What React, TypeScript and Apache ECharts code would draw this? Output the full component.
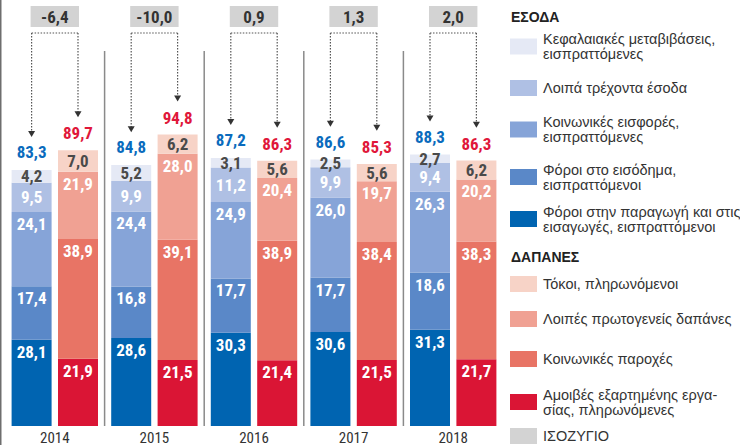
import React, { useEffect, useRef } from "react";
import * as echarts from "echarts";

const categories = ["2014", "2015", "2016", "2017", "2018"];
// Revenue (ΕΣΟΔΑ), bottom to top of stack
const revProduction = [28.1, 28.6, 30.3, 30.6, 31.3];
const revIncome = [17.4, 16.8, 17.7, 17.7, 18.6];
const revSocial = [24.1, 24.4, 24.9, 26.0, 26.3];
const revOther = [9.5, 9.9, 11.2, 9.9, 9.4];
const revCapital = [4.2, 5.2, 3.1, 2.5, 2.7];
// Expenses (ΔΑΠΑΝΕΣ), bottom to top of stack
const expWages = [21.9, 21.5, 21.4, 21.5, 21.7];
const expBenefits = [38.9, 39.1, 38.9, 38.4, 38.3];
const expOtherPrimary = [21.9, 28.0, 20.4, 19.7, 20.2];
const expInterest = [7.0, 6.2, 5.6, 5.6, 6.2];
// Totals and balance (ΙΣΟΖΥΓΙΟ)
const revTotals = [83.3, 84.8, 87.2, 86.6, 88.3];
const expTotals = [89.7, 94.8, 86.3, 85.3, 86.3];
const balance = [-6.4, -10.0, 0.9, 1.3, 2.0];

const revNames = [
  "Φόροι στην παραγωγή και στις\nεισαγωγές, εισπραττόμενοι",
  "Φόροι στο εισόδημα,\nεισπραττόμενοι",
  "Κοινωνικές εισφορές,\nεισπραττόμενες",
  "Λοιπά τρέχοντα έσοδα",
  "Κεφαλαιακές μεταβιβάσεις,\nεισπραττόμενες",
];
const expNames = [
  "Αμοιβές εξαρτημένης εργα-\nσίας, πληρωνόμενες",
  "Κοινωνικές παροχές",
  "Λοιπές πρωτογενείς δαπάνες",
  "Τόκοι, πληρωνόμενοι",
];
const balanceName = "ΙΣΟΖΥΓΙΟ";
const revTitle = "ΕΣΟΔΑ";
const expTitle = "ΔΑΠΑΝΕΣ";

const revColors = ["#0064b1", "#5a88c8", "#86a4d8", "#afc0e4", "#e5e9f5"];
const expColors = ["#da1535", "#e87465", "#f0a193", "#f7d3c7"];
const balanceColor = "#d3d3d3";
const totalRevColor = "#0a6bbd";
const totalExpColor = "#e0173a";

const NARROW =
  "'Liberation Sans Narrow', 'Roboto Condensed', 'DejaVu Sans Condensed', 'Arial Narrow', sans-serif";
const SANS = "'Liberation Sans', Arial, Helvetica, sans-serif";

const BAR_W = 40;
const BAR_GAP = 6.4;

const fmt = (v: number) => v.toFixed(1).replace(".", ",");

export default function App() {
  const ref = useRef<HTMLDivElement>(null);
  useEffect(() => {
    if (!ref.current) return;
    const chart = echarts.init(ref.current, undefined, { renderer: "svg" });

    const revData = [revProduction, revIncome, revSocial, revOther, revCapital];
    const expData = [expWages, expBenefits, expOtherPrimary, expInterest];

    const segLabel = (dark: boolean, centred: boolean) => ({
      show: true,
      position: centred ? "inside" : "insideTop",
      distance: 4,
      color: dark ? "#4a4a4a" : "#ffffff",
      fontFamily: NARROW,
      fontWeight: "bold",
      fontSize: 17,
      lineHeight: 16,
      formatter: (p: any) => fmt(p.value),
    });

    const series: any[] = [];
    revData.forEach((d, k) => {
      series.push({
        type: "bar",
        name: revNames[k].replace("\n", " "),
        stack: "rev",
        barWidth: BAR_W,
        barGap: (BAR_GAP / BAR_W) * 100 + "%",
        data: d,
        itemStyle: { color: revColors[k] },
        label: segLabel(k === revData.length - 1, k >= revData.length - 2),
        silent: true,
      });
    });
    expData.forEach((d, k) => {
      series.push({
        type: "bar",
        name: expNames[k].replace("-\n", "").replace("\n", " "),
        stack: "exp",
        barWidth: BAR_W,
        barGap: (BAR_GAP / BAR_W) * 100 + "%",
        data: d,
        itemStyle: { color: expColors[k] },
        label: segLabel(k === expData.length - 1, k === expData.length - 1),
        silent: true,
      });
    });

    series.push({
      type: "custom",
      name: balanceName,
      clip: false,
      silent: true,
      encode: { x: 0, y: 1 },
      data: categories.map((_, i) => [i, revTotals[i], expTotals[i], balance[i]]),
      renderItem: (params: any, api: any) => {
        const i = api.value(0);
        const base = api.coord([i, 0]);
        const cx = base[0];
        const y0 = base[1];
        const band = api.size([1, 0])[0];
        const off = BAR_W / 2 + BAR_GAP / 2;
        const rx = cx - off;
        const ex = cx + off;
        const ry = api.coord([i, api.value(1)])[1];
        const ey = api.coord([i, api.value(2)])[1];
        const gridTop = params.coordSys.y;
        const boxTop = 6;
        const boxH = 21;
        const lineY = 33;
        const dot = { stroke: "#555", lineWidth: 1.2, lineDash: [1.5, 1.5] };
        const labelOff = 18;
        const rTip = ry - labelOff - 15;
        const eTip = ey - labelOff - 15;
        const children: any[] = [];
        if (i > 0) {
          children.push({
            type: "line",
            shape: { x1: cx - band / 2, y1: gridTop, x2: cx - band / 2, y2: y0 },
            style: { stroke: "#8a8a8a", lineWidth: 1.5 },
          });
        }
        children.push(
          {
            type: "rect",
            shape: { x: rx - 1, y: boxTop, width: ex - rx + 2, height: boxH },
            style: { fill: balanceColor },
          },
          {
            type: "text",
            style: {
              text: fmt(api.value(3)),
              x: cx,
              y: boxTop + boxH / 2 + 0.5,
              align: "center",
              verticalAlign: "middle",
              fill: "#333",
              fontFamily: NARROW,
              fontWeight: "bold",
              fontSize: 17,
            },
          },
          { type: "line", shape: { x1: rx, y1: lineY, x2: ex, y2: lineY }, style: dot },
          { type: "line", shape: { x1: rx, y1: lineY, x2: rx, y2: rTip - 5 }, style: dot },
          { type: "line", shape: { x1: ex, y1: lineY, x2: ex, y2: eTip - 5 }, style: dot },
          {
            type: "polygon",
            shape: { points: [[rx - 3.5, rTip - 6], [rx + 3.5, rTip - 6], [rx, rTip]] },
            style: { fill: "#333" },
          },
          {
            type: "polygon",
            shape: { points: [[ex - 3.5, eTip - 6], [ex + 3.5, eTip - 6], [ex, eTip]] },
            style: { fill: "#333" },
          },
          {
            type: "text",
            style: {
              text: fmt(api.value(1)),
              x: rx,
              y: ry - labelOff,
              align: "center",
              verticalAlign: "middle",
              fill: totalRevColor,
              fontFamily: NARROW,
              fontWeight: "bold",
              fontSize: 17,
              lineHeight: 16,
            },
          },
          {
            type: "text",
            style: {
              text: fmt(api.value(2)),
              x: ex,
              y: ey - labelOff + 1,
              align: "center",
              verticalAlign: "middle",
              fill: totalExpColor,
              fontFamily: NARROW,
              fontWeight: "bold",
              fontSize: 17,
              lineHeight: 16,
            },
          }
        );
        return { type: "group", children };
      },
    });

    // Legend built from names and colours
    const legendX = 510;
    const revLegendY = [219, 177, 129.5, 88, 46.5];
    const expLegendY = [402, 359, 319, 284];
    const graphic: any[] = [
      { type: "rect", shape: { x: 0, y: 0, width: 1.5, height: 445 }, style: { fill: "#6e6e6e" } },
      {
        type: "text",
        style: {
          text: revTitle,
          x: legendX + 1,
          y: 17,
          verticalAlign: "middle",
          fill: "#222",
          fontFamily: SANS,
          fontWeight: "bold",
          fontSize: 14,
        },
      },
      {
        type: "text",
        style: {
          text: expTitle,
          x: legendX + 1,
          y: 257,
          verticalAlign: "middle",
          fill: "#222",
          fontFamily: SANS,
          fontWeight: "bold",
          fontSize: 14,
        },
      },
    ];
    const addItem = (name: string, color: string, yc: number) => {
      graphic.push({
        type: "rect",
        shape: { x: legendX, y: yc - 8, width: 27, height: 16 },
        style: { fill: color },
      });
      graphic.push({
        type: "text",
        style: {
          text: name,
          x: legendX + 33,
          y: yc,
          verticalAlign: "middle",
          fill: "#333",
          fontFamily: SANS,
          fontSize: 14.5,
          lineHeight: 15,
        },
      });
    };
    revNames.forEach((n, k) => addItem(n, revColors[k], revLegendY[k]));
    expNames.forEach((n, k) => addItem(n, expColors[k], expLegendY[k]));
    addItem(balanceName, balanceColor, 436);

    chart.setOption({
      animation: false,
      grid: { left: 5, right: 237, top: 51, bottom: 18, containLabel: false },
      xAxis: {
        type: "category",
        data: categories,
        axisLine: { show: false },
        axisTick: { show: false },
        axisLabel: { color: "#333", fontFamily: NARROW, fontSize: 15, margin: 4 },
        splitLine: { show: false },
      },
      yAxis: {
        type: "value",
        min: 0,
        max: 122,
        show: false,
        splitLine: { show: false },
      },
      graphic,
      series,
    });
    return () => chart.dispose();
  }, []);
  return (
    <div
      ref={ref}
      style={{ position: "fixed", left: 0, top: 0, width: 740, height: 445, background: "#fff" }}
    />
  );
}
